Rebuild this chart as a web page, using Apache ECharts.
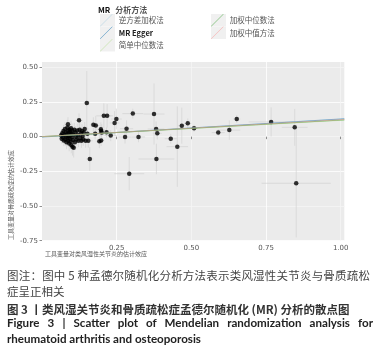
<!DOCTYPE html>
<html>
<head>
<meta charset="utf-8">
<script src="https://cdn.jsdelivr.net/npm/echarts@6/dist/echarts.min.js"></script>
<style>
html, body { margin: 0; padding: 0; background: #fff; }
#wrap { position: relative; width: 386px; height: 350px; overflow: hidden; }
#chart { position: absolute; left: 0; top: 0; width: 386px; height: 350px; }
.cap { position: absolute; left: 7px; white-space: nowrap; font-family: "Noto Sans CJK SC", sans-serif; }
.zh1 { font-size: 11.5px; color: #444; }
.zh2 { font-size: 11.5px; color: #333; font-weight: 700; }
.en { font-family: Lato, "Open Sans", sans-serif; font-size: 11.6px; font-weight: 700; color: #222; }
</style>
</head>
<body>
<div id="wrap">
  <div id="chart"></div>
  <div class="cap zh1" style="top:267px;width:363px;text-align:justify;text-align-last:justify;">图注：图中 5 种孟德尔随机化分析方法表示类风湿性关节炎与骨质疏松</div>
  <div class="cap zh1" style="top:283px;">症呈正相关</div>
  <div class="cap zh2" style="top:301px;">图 3 丨类风湿关节炎和骨质疏松症孟德尔随机化 (MR) 分析的散点图</div>
  <div class="cap en" style="top:315.5px;width:366px;text-align:justify;text-align-last:justify;">Figure 3 | Scatter plot of Mendelian randomization analysis for</div>
  <div class="cap en" style="top:331.5px;">rheumatoid arthritis and osteoporosis</div>
</div>
<script>
// MR 方法（图例顺序）与颜色
var methodNames = ['逆方差加权法', 'MR Egger', '简单中位数法', '加权中位数法', '加权中值方法'];
var methodColors = ['#a6cee3', '#1f78b4', '#b2df8a', '#33a02c', '#fb9a99'];

// 各方法回归线端点 [暴露效应, 结局效应]
var ivwLine = [[0, 0], [1.012, 0.127]];
var eggerLine = [[0, -0.003], [1.012, 0.129]];
var simpleMedianLine = [[0, 0], [1.012, 0.119]];
var weightedMedianLine = [[0, 0], [1.012, 0.121]];
var weightedModeLine = [[0, 0], [1.012, 0.124]];

// SNP: [暴露 beta, 结局 beta, 暴露 se, 结局 se]
var clusterSnps = [
  [0.064, 0.010, 0.006, 0.030], [0.066, -0.015, 0.007, 0.035], [0.068, 0.025, 0.008, 0.040],
  [0.070, -0.004, 0.006, 0.030], [0.072, 0.040, 0.009, 0.045], [0.073, -0.028, 0.008, 0.040],
  [0.075, 0.012, 0.007, 0.035], [0.077, 0.055, 0.010, 0.050], [0.078, -0.020, 0.008, 0.045],
  [0.080, 0.030, 0.009, 0.040], [0.081, 0.000, 0.007, 0.030], [0.082, -0.040, 0.009, 0.050],
  [0.083, 0.018, 0.008, 0.035], [0.085, 0.066, 0.010, 0.055], [0.086, -0.010, 0.008, 0.040],
  [0.087, 0.042, 0.009, 0.045], [0.088, -0.030, 0.009, 0.045], [0.089, 0.005, 0.008, 0.030],
  [0.090, 0.025, 0.010, 0.040], [0.091, -0.050, 0.010, 0.055], [0.092, 0.050, 0.010, 0.050],
  [0.093, -0.015, 0.009, 0.040], [0.094, 0.035, 0.010, 0.045], [0.095, 0.010, 0.009, 0.035],
  [0.096, -0.035, 0.010, 0.050], [0.097, 0.060, 0.011, 0.055], [0.098, -0.060, 0.011, 0.060],
  [0.099, 0.020, 0.009, 0.040], [0.100, -0.005, 0.010, 0.035], [0.101, 0.045, 0.011, 0.050],
  [0.102, -0.072, 0.012, 0.065], [0.104, -0.024, 0.010, 0.045], [0.105, 0.015, 0.010, 0.040],
  [0.106, -0.080, 0.012, 0.070], [0.108, 0.050, 0.012, 0.050], [0.110, -0.040, 0.011, 0.050],
  [0.112, 0.030, 0.012, 0.045], [0.114, 0.000, 0.011, 0.035], [0.116, -0.020, 0.012, 0.045],
  [0.118, 0.045, 0.013, 0.050], [0.120, 0.010, 0.012, 0.040], [0.122, -0.030, 0.012, 0.045],
  [0.126, 0.050, 0.013, 0.055], [0.128, -0.010, 0.012, 0.040], [0.130, 0.025, 0.013, 0.045],
  [0.132, -0.030, 0.013, 0.050], [0.134, 0.040, 0.014, 0.050], [0.136, 0.005, 0.013, 0.040],
  [0.138, -0.020, 0.013, 0.045], [0.140, 0.030, 0.014, 0.045], [0.143, 0.055, 0.015, 0.050],
  [0.146, -0.030, 0.014, 0.050], [0.152, 0.020, 0.015, 0.045], [0.155, -0.030, 0.015, 0.050],
  [0.178, 0.020, 0.014, 0.040]
];
var spreadSnps = [
  [0.150, 0.243, 0.010, 0.230], [0.124, 0.118, 0.012, 0.050], [0.087, 0.090, 0.010, 0.050],
  [0.172, 0.085, 0.012, 0.055], [0.180, 0.080, 0.012, 0.070], [0.207, 0.150, 0.025, 0.090],
  [0.218, 0.150, 0.020, 0.085], [0.249, 0.127, 0.018, 0.075], [0.243, 0.099, 0.016, 0.085],
  [0.304, 0.166, 0.035, 0.035], [0.375, 0.163, 0.035, 0.220], [0.382, 0.055, 0.028, 0.055],
  [0.386, 0.024, 0.015, 0.045], [0.283, 0.057, 0.022, 0.060], [0.278, -0.002, 0.022, 0.048],
  [0.323, -0.002, 0.022, 0.038], [0.230, 0.008, 0.020, 0.040], [0.197, 0.053, 0.015, 0.050],
  [0.198, 0.040, 0.012, 0.040], [0.200, 0.030, 0.014, 0.060], [0.216, 0.031, 0.015, 0.035],
  [0.192, -0.033, 0.012, 0.050], [0.198, -0.028, 0.010, 0.040], [0.160, -0.161, 0.012, 0.085],
  [0.292, -0.267, 0.050, 0.120], [0.383, -0.161, 0.060, 0.110], [0.431, -0.015, 0.020, 0.035],
  [0.453, -0.072, 0.036, 0.290], [0.468, 0.079, 0.013, 0.130], [0.488, 0.096, 0.012, 0.035],
  [0.509, 0.060, 0.012, 0.025], [0.590, 0.029, 0.022, 0.025], [0.627, 0.047, 0.037, 0.070],
  [0.652, 0.127, 0.012, 0.028], [0.767, 0.106, 0.075, 0.105], [0.846, 0.067, 0.043, 0.133],
  [0.851, -0.336, 0.116, 0.390]
];

// 刻度
var xTicks = [0.25, 0.5, 0.75, 1.0];
var yTicks = [-0.75, -0.5, -0.25, 0, 0.25, 0.5];

var snps = clusterSnps.concat(spreadSnps);
var lines = [ivwLine, eggerLine, simpleMedianLine, weightedMedianLine, weightedModeLine];

var chart = echarts.init(document.getElementById('chart'), null, { renderer: 'canvas' });

function renderErrorBar(params, api) {
  var bx = api.value(0), by = api.value(1), sx = api.value(2), sy = api.value(3);
  var h1 = api.coord([bx - sx, by]), h2 = api.coord([bx + sx, by]);
  var v1 = api.coord([bx, by - sy]), v2 = api.coord([bx, by + sy]);
  var st = { stroke: '#d2d2d2', lineWidth: 0.7 };
  return {
    type: 'group',
    children: [
      { type: 'line', shape: { x1: h1[0], y1: h1[1], x2: h2[0], y2: h2[1] }, style: st },
      { type: 'line', shape: { x1: v1[0], y1: v1[1], x2: v2[0], y2: v2[1] }, style: st }
    ]
  };
}

var series = [
  {
    type: 'custom',
    renderItem: renderErrorBar,
    data: snps,
    encode: { x: 0, y: 1 },
    silent: true,
    z: 1
  },
  {
    type: 'scatter',
    data: snps.map(function (d) { return [d[0], d[1]]; }),
    symbolSize: 4.5,
    itemStyle: { color: '#000' },
    silent: true,
    z: 2
  }
];
lines.forEach(function (ln, i) {
  series.push({
    name: methodNames[i],
    type: 'line',
    data: ln,
    showSymbol: false,
    color: methodColors[i],
    lineStyle: { width: 0.6, color: methodColors[i], opacity: 0.85 },
    silent: true,
    z: 3
  });
});

// 图例键：灰底上一条细斜线
var diagIcon = 'path://M0,98 L98,0 L100,2 L2,100 Z';
var legendText = {
  color: '#555',
  fontSize: 7.5,
  fontFamily: 'Noto Sans CJK SC',
  rich: { b: { color: '#222', fontSize: 7.5, fontWeight: 'bold', fontFamily: 'Noto Sans CJK SC' } }
};
function legendFmt(name) { return name === 'MR Egger' ? '{b|' + name + '}' : name; }

var option = {
  animation: false,
  title: {
    left: 98, top: 1, padding: 0,
    text: '{a|MR} {b|分析方法}',
    textStyle: {
      rich: {
        a: { fontSize: 8, fontWeight: 'bold', color: '#111', fontFamily: 'Noto Sans CJK SC' },
        b: { fontSize: 8, color: '#555', fontFamily: 'Noto Sans CJK SC' }
      }
    }
  },
  legend: [
    {
      data: methodNames.slice(0, 3), left: 100, top: 14, orient: 'vertical', padding: 0,
      itemGap: 0, itemWidth: 15, itemHeight: 12.5, icon: diagIcon, selectedMode: false,
      textStyle: legendText, formatter: legendFmt, z: 5
    },
    {
      data: methodNames.slice(3), left: 211, top: 14, orient: 'vertical', padding: 0,
      itemGap: 0, itemWidth: 15, itemHeight: 12.5, icon: diagIcon, selectedMode: false,
      textStyle: legendText, formatter: legendFmt, z: 5
    }
  ],
  grid: {
    left: 42, right: 41.7, top: 62, bottom: 109.3,
    show: true, backgroundColor: '#ebebeb', borderWidth: 0
  },
  xAxis: {
    type: 'value', min: 0, max: 1.012, interval: 0.125,
    axisLine: { show: false },
    axisTick: { show: true, customValues: xTicks, length: 2.5, lineStyle: { color: '#444', width: 0.6 } },
    axisLabel: {
      customValues: xTicks, color: '#555', fontSize: 7, margin: 4,
      fontFamily: 'DejaVu Sans',
      formatter: function (v) { return v.toFixed(2); }
    },
    splitLine: { show: true, lineStyle: { color: ['#ffffff', '#f5f5f5'], width: 0.8 } }
  },
  yAxis: {
    type: 'value', min: -0.75, max: 0.538, interval: 0.125,
    axisLine: { show: false },
    axisTick: { show: true, customValues: yTicks, length: 2.5, lineStyle: { color: '#444', width: 0.6 } },
    axisLabel: {
      customValues: yTicks, color: '#555', fontSize: 7, margin: 4,
      fontFamily: 'DejaVu Sans',
      formatter: function (v) { return v.toFixed(2); }
    },
    splitLine: { show: true, lineStyle: { color: ['#ffffff', '#f5f5f5'], width: 0.8 } }
  },
  graphic: [
    { type: 'rect', left: 100, top: 14, shape: { width: 15, height: 12.5 }, style: { fill: '#f0f0f0' }, z: 0 },
    { type: 'rect', left: 100, top: 26.5, shape: { width: 15, height: 12.5 }, style: { fill: '#f0f0f0' }, z: 0 },
    { type: 'rect', left: 100, top: 39, shape: { width: 15, height: 12.5 }, style: { fill: '#f0f0f0' }, z: 0 },
    { type: 'rect', left: 211, top: 14, shape: { width: 15, height: 12.5 }, style: { fill: '#f0f0f0' }, z: 0 },
    { type: 'rect', left: 211, top: 26.5, shape: { width: 15, height: 12.5 }, style: { fill: '#f0f0f0' }, z: 0 },
    {
      type: 'text', left: 45, top: 251,
      style: { text: '工具变量对类风湿性关节炎的估计效应', fontSize: 6, fill: '#555', fontFamily: 'Noto Sans CJK SC' }
    },
    {
      type: 'text', x: 11, y: 195, rotation: Math.PI / 2,
      style: {
        text: '工具变量对骨质疏松症的估计效应', fontSize: 6, fill: '#555', fontFamily: 'Noto Sans CJK SC',
        align: 'center', verticalAlign: 'middle'
      }
    }
  ],
  series: series
};

chart.setOption(option);
window.addEventListener('resize', function () { chart.resize(); });
</script>
</body>
</html>
